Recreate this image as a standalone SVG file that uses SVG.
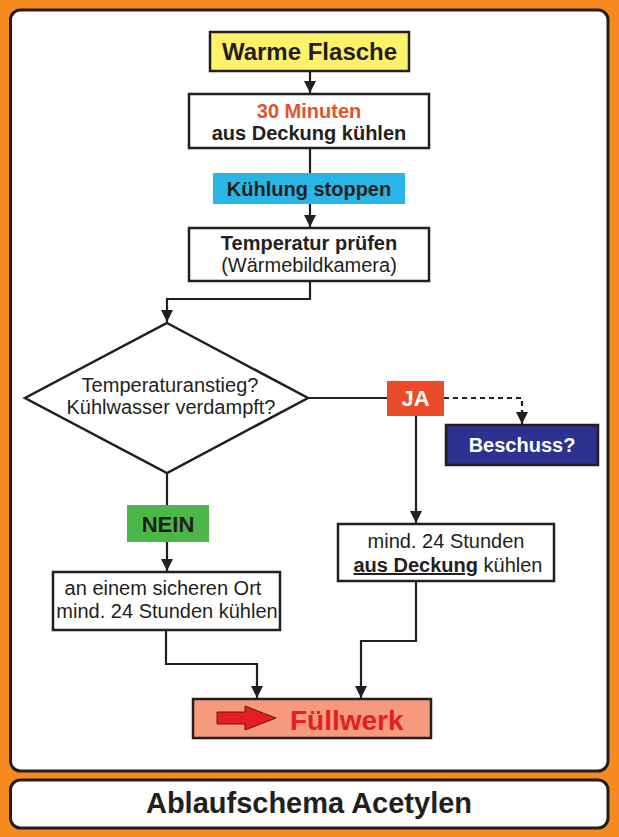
<svg xmlns="http://www.w3.org/2000/svg" width="619" height="837" viewBox="0 0 619 837">
<defs>
<style>
text{font-family:"Liberation Sans",Arial,sans-serif;text-anchor:middle;fill:#231f20}
.b{font-weight:bold}
.f20{font-size:20px}
.box{stroke:#231f20;stroke-width:2.5}
.con{fill:none;stroke:#231f20;stroke-width:2.2}
.dash{stroke-dasharray:5 4}
</style>
<marker id="ah" viewBox="0 0 12 12" refX="12" refY="6" markerWidth="12" markerHeight="12" markerUnits="userSpaceOnUse" orient="auto">
<path d="M0,0 L12,6 L0,12 z" fill="#231f20"/>
</marker>
</defs>
<rect x="0" y="0" width="619" height="837" fill="#f6891f"/>
<g id="panel">
<rect x="10.5" y="10" width="597.5" height="761" rx="10" fill="#ffffff" stroke="#231f20" stroke-width="3"/>
</g>
<g id="title">
<rect x="10.5" y="780" width="597.5" height="48" rx="10" fill="#ffffff" stroke="#231f20" stroke-width="3"/>
<text x="309" y="813" class="b" font-size="29">Ablaufschema Acetylen</text>
</g>
<g id="connectors">
<path class="con" d="M310,71 V93" marker-end="url(#ah)"/>
<path class="con" d="M310,148 V173"/>
<path class="con" d="M310,204 V227" marker-end="url(#ah)"/>
<path class="con" d="M310,281 V299 H167 V322" marker-end="url(#ah)"/>
<path class="con" d="M308,398 H387"/>
<path class="con dash" d="M444,398 H522 V424" marker-end="url(#ah)"/>
<path class="con" d="M416,416 V523" marker-end="url(#ah)"/>
<path class="con" d="M167,473 V505"/>
<path class="con" d="M167,542 V571" marker-end="url(#ah)"/>
<path class="con" d="M166,630 V664 H257 V698" marker-end="url(#ah)"/>
<path class="con" d="M416,581 V641 H361 V698" marker-end="url(#ah)"/>
</g>
<g id="warme">
<rect class="box" x="210" y="32" width="199" height="39" fill="#fdf26a"/>
<text x="309.5" y="60" class="b" font-size="24">Warme Flasche</text>
</g>
<g id="minuten">
<rect class="box" x="189" y="94" width="240" height="54" fill="#ffffff"/>
<text x="309" y="118" class="b f20" style="fill:#e8522b">30 Minuten</text>
<text x="309" y="140" class="b f20">aus Deckung kühlen</text>
</g>
<g id="kuehlung">
<rect x="213" y="173" width="192" height="31" fill="#29b6e6"/>
<text x="309" y="196" class="b f20">Kühlung stoppen</text>
</g>
<g id="temperatur">
<rect class="box" x="189" y="228" width="240" height="53" fill="#ffffff"/>
<text x="309" y="250" class="b f20">Temperatur prüfen</text>
<text x="309" y="272" class="f20">(Wärmebildkamera)</text>
</g>
<g id="entscheidung">
<polygon class="box" points="167,323 308,398 167,473 25,398" fill="#ffffff"/>
<text x="170" y="392" class="f20">Temperaturanstieg?</text>
<text x="171" y="414" class="f20">Kühlwasser verdampft?</text>
</g>
<g id="ja">
<rect x="387" y="381" width="57" height="35" fill="#ea4b2a"/>
<text x="415.5" y="406" class="b" font-size="22" style="fill:#ffffff">JA</text>
</g>
<g id="beschuss">
<rect class="box" x="446" y="425" width="152" height="40" fill="#2d3190"/>
<text x="522" y="452" class="b f20" style="fill:#ffffff">Beschuss?</text>
</g>
<g id="nein">
<rect x="127" y="505" width="82" height="37" fill="#4cb748"/>
<text x="168" y="532" class="b" font-size="22">NEIN</text>
</g>
<g id="sicher">
<rect class="box" x="53" y="572" width="227" height="58" fill="#ffffff"/>
<text x="163" y="595" class="f20">an einem sicheren Ort</text>
<text x="167" y="618" class="f20">mind. 24 Stunden kühlen</text>
</g>
<g id="deckung">
<rect class="box" x="338" y="524" width="216" height="57" fill="#ffffff"/>
<text x="446" y="548" class="f20">mind. 24 Stunden</text>
<text x="448" y="572" class="f20"><tspan class="b" text-decoration="underline">aus Deckung</tspan> kühlen</text>
</g>
<g id="fuellwerk">
<rect class="box" x="193" y="699" width="238" height="39" fill="#f59a7c"/>
<polygon points="217,712 245,712 245,706 276,718 245,730 245,724 217,724" fill="#e41e26" stroke="#6b1416" stroke-width="1"/>
<text x="290" y="730" class="b" font-size="28" style="fill:#e31e24;text-anchor:start">Füllwerk</text>
</g>
</svg>
